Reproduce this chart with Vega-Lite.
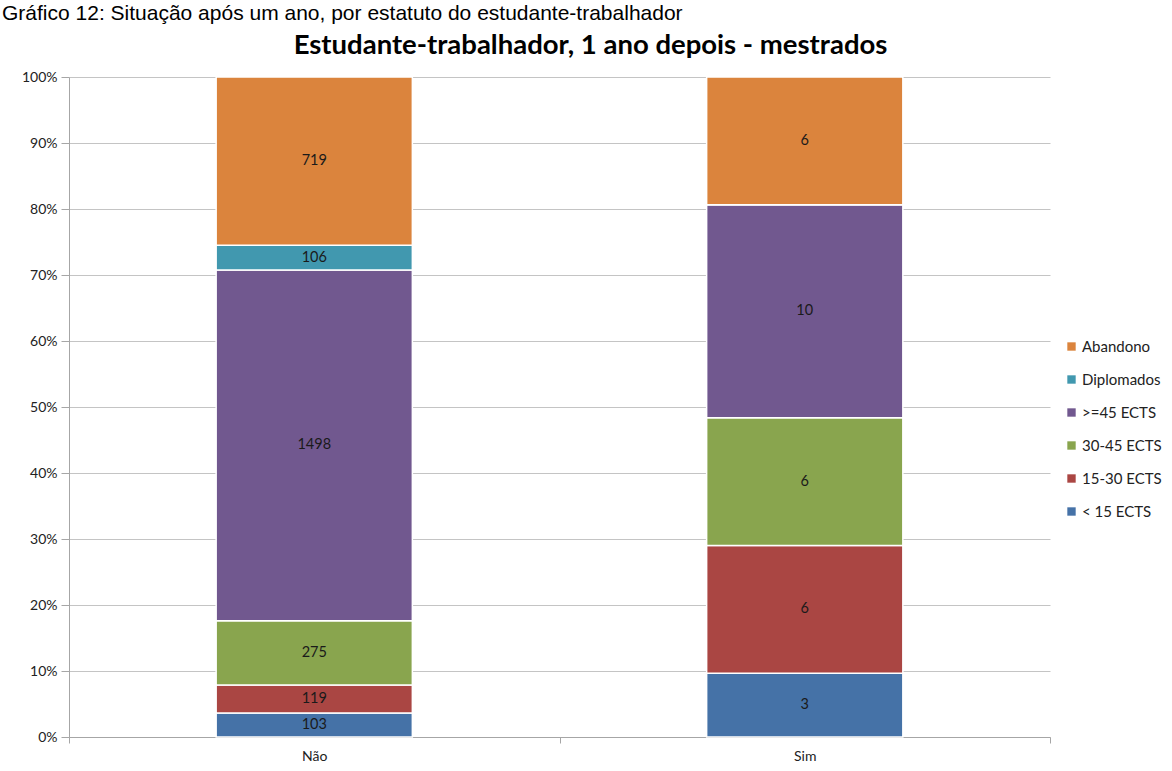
{
  "$schema": "https://vega.github.io/schema/vega-lite/v6.json",
  "width": 1172,
  "height": 771,
  "autosize": {"type": "fit", "contains": "padding"},
  "padding": {"top": 3, "left": 2, "right": 10, "bottom": 8},
  "background": "white",
  "title": {
    "text": "Gráfico 12: Situação após um ano, por estatuto do estudante-trabalhador",
    "anchor": "start",
    "frame": "bounds",
    "font": "Liberation Sans",
    "fontSize": 21,
    "fontWeight": "normal",
    "color": "#000000",
    "offset": 7
  },
  "data": {
    "values": [
      {"estatuto": "Não", "situacao": "< 15 ECTS", "ord": 1, "n": 103},
      {"estatuto": "Não", "situacao": "15-30 ECTS", "ord": 2, "n": 119},
      {"estatuto": "Não", "situacao": "30-45 ECTS", "ord": 3, "n": 275},
      {"estatuto": "Não", "situacao": ">=45 ECTS", "ord": 4, "n": 1498},
      {"estatuto": "Não", "situacao": "Diplomados", "ord": 5, "n": 106},
      {"estatuto": "Não", "situacao": "Abandono", "ord": 6, "n": 719},
      {"estatuto": "Sim", "situacao": "< 15 ECTS", "ord": 1, "n": 3},
      {"estatuto": "Sim", "situacao": "15-30 ECTS", "ord": 2, "n": 6},
      {"estatuto": "Sim", "situacao": "30-45 ECTS", "ord": 3, "n": 6},
      {"estatuto": "Sim", "situacao": ">=45 ECTS", "ord": 4, "n": 10},
      {"estatuto": "Sim", "situacao": "Diplomados", "ord": 5, "n": 0},
      {"estatuto": "Sim", "situacao": "Abandono", "ord": 6, "n": 6}
    ]
  },
  "layer": [
    {
      "layer": [
        {
          "mark": {"type": "bar", "width": {"band": 0.4}, "stroke": "white", "strokeWidth": 1.5},
          "encoding": {
            "x": {
              "field": "estatuto",
              "type": "nominal",
              "sort": ["Não", "Sim"],
              "scale": {"paddingInner": 0, "paddingOuter": 0},
              "axis": {
                "title": null,
                "labelAngle": 0,
                "tickBand": "extent",
                "domainColor": "#a6a6a6",
                "tickColor": "#a6a6a6",
                "tickSize": 6,
                "labelFont": "Lato",
                "labelFontSize": 14,
                "labelColor": "#222222",
                "labelPadding": 6
              }
            },
            "y": {
              "field": "n",
              "type": "quantitative",
              "stack": "normalize",
              "scale": {"domain": [0, 1]},
              "axis": {
                "title": null,
                "values": [0, 0.1, 0.2, 0.3, 0.4, 0.5, 0.6, 0.7, 0.8, 0.9, 1],
                "format": ".0%",
                "domainColor": "#a6a6a6",
                "tickColor": "#a6a6a6",
                "tickSize": 8,
                "gridColor": "#c4c4c4",
                "labelFont": "Lato",
                "labelFontSize": 14,
                "labelColor": "#222222",
                "labelPadding": 4,
                "minExtent": 67
              }
            },
            "color": {
              "field": "situacao",
              "type": "nominal",
              "scale": {
                "domain": ["Abandono", "Diplomados", ">=45 ECTS", "30-45 ECTS", "15-30 ECTS", "< 15 ECTS"],
                "range": ["#DB843D", "#4198AF", "#71588F", "#89A54E", "#AA4643", "#4572A7"]
              },
              "legend": {
                "title": " ",
                "titleFontSize": 10,
                "titlePadding": 34,
                "symbolType": "square",
                "symbolSize": 70,
                "symbolStrokeWidth": 0,
                "labelFont": "Lato",
                "labelFontSize": 15,
                "labelColor": "#222222",
                "labelOffset": 3,
                "rowPadding": 17,
                "offset": 14
              }
            },
            "order": {"field": "ord", "type": "quantitative"}
          }
        },
        {
          "transform": [
            {"stack": "n", "groupby": ["estatuto"], "sort": [{"field": "ord"}], "as": ["y0", "y1"], "offset": "normalize"},
            {"calculate": "(datum.y0 + datum.y1) / 2", "as": "ym"},
            {"filter": "datum.n > 0"}
          ],
          "mark": {"type": "text", "font": "Lato", "fontSize": 14.5, "color": "#1a1a1a", "baseline": "middle"},
          "encoding": {
            "x": {"field": "estatuto", "type": "nominal", "sort": ["Não", "Sim"]},
            "y": {"field": "ym", "type": "quantitative"},
            "text": {"field": "n", "type": "quantitative"}
          }
        }
      ]
    },
    {
      "mark": {"type": "bar", "opacity": 0},
      "encoding": {
        "x": {
          "field": "estatuto",
          "type": "nominal",
          "sort": ["Não", "Sim"],
          "scale": {"paddingInner": 0, "paddingOuter": 0},
          "axis": {
            "orient": "top",
            "title": "Estudante-trabalhador, 1 ano depois - mestrados",
            "labels": false,
            "ticks": false,
            "domain": false,
            "titleFont": "Lato",
            "titleFontSize": 27.5,
            "titleFontWeight": "bold",
            "titleColor": "#000000",
            "titlePadding": 18,
            "titleX": 521
          }
        },
        "y": {"field": "n", "type": "quantitative", "stack": "normalize"}
      }
    }
  ],
  "resolve": {"scale": {"x": "independent"}, "axis": {"x": "independent"}},
  "config": {
    "view": {"stroke": null},
    "legend": {"layout": {"anchor": "middle"}}
  }
}
